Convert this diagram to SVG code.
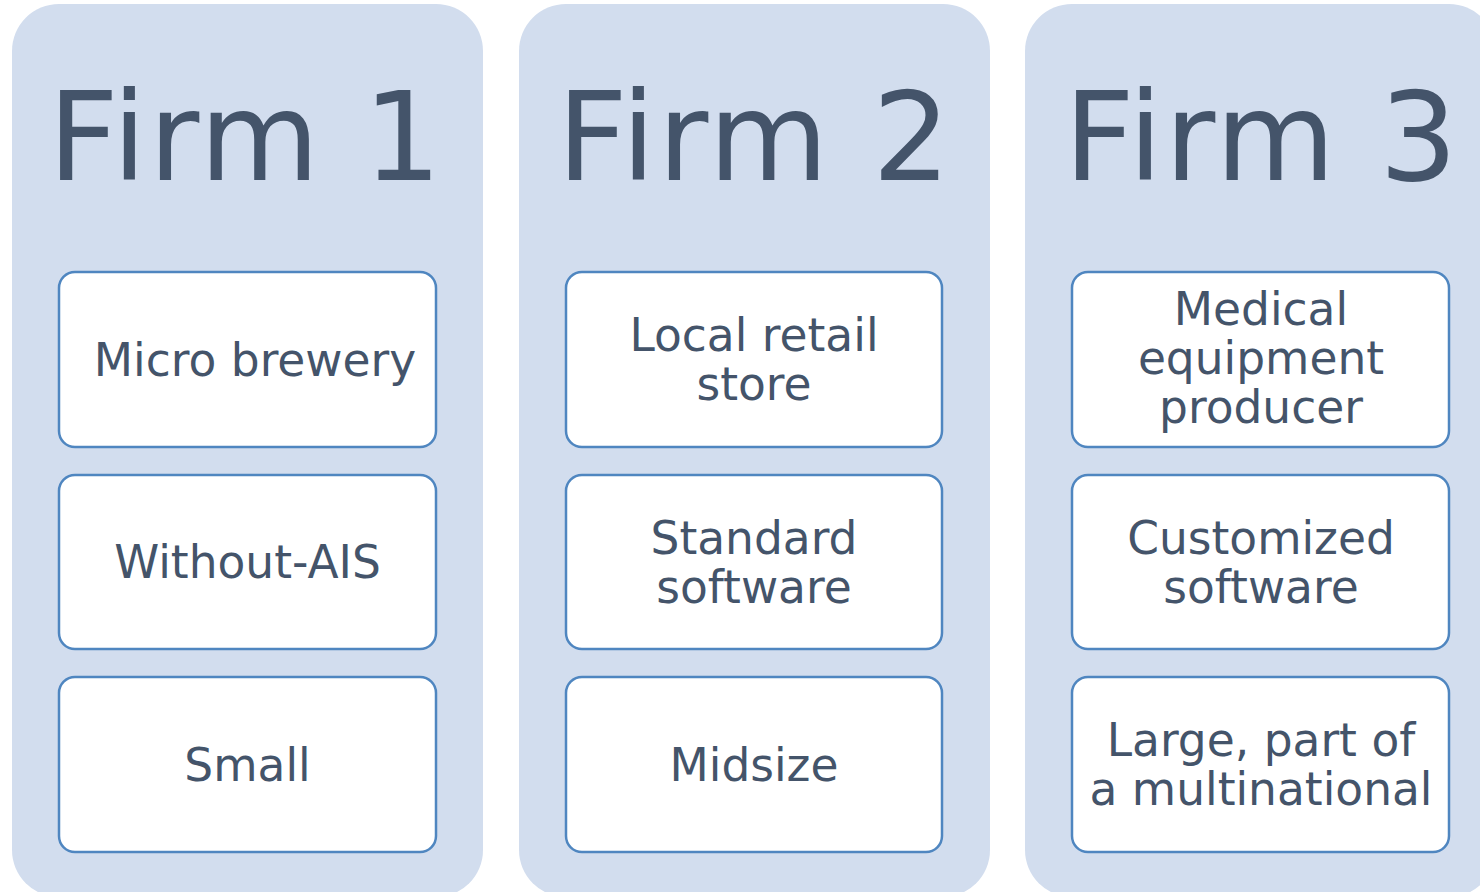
<svg xmlns="http://www.w3.org/2000/svg" width="1480" height="892" viewBox="0 0 1480 892">
<style>
.panel{fill:#D2DDEE}
.box{fill:#FFFFFF;stroke:#4F86C0;stroke-width:2.5}
.title{font-family:"DejaVu Sans",Verdana,sans-serif;font-size:123px;letter-spacing:2.4px;fill:#44546A;text-anchor:middle}
.lbl{font-family:"DejaVu Sans",Verdana,sans-serif;font-size:45.5px;fill:#44546A;text-anchor:middle}
</style>
<g id="firm1">
<rect class="panel" x="12" y="4" width="471" height="893" rx="47"/>
<text class="title" x="246" y="180">Firm 1</text>
</g>
<g id="firm2">
<rect class="panel" x="519" y="4" width="471" height="893" rx="47"/>
<text class="title" x="755" y="180">Firm 2</text>
</g>
<g id="firm3">
<rect class="panel" x="1025" y="4" width="471" height="893" rx="47"/>
<text class="title" x="1262" y="180">Firm 3</text>
</g>
<g id="f1-type"><rect class="box" x="59" y="272" width="377" height="175" rx="16"/><text class="lbl" x="255" y="376">Micro brewery</text></g>
<g id="f1-ais"><rect class="box" x="59" y="475" width="377" height="174" rx="16"/><text class="lbl" x="247.5" y="578">Without-AIS</text></g>
<g id="f1-size"><rect class="box" x="59" y="677" width="377" height="175" rx="16"/><text class="lbl" x="247.5" y="781">Small</text></g>
<g id="f2-type"><rect class="box" x="566" y="272" width="376" height="175" rx="16"/><text class="lbl" x="754" y="351">Local retail</text><text class="lbl" x="754" y="400">store</text></g>
<g id="f2-ais"><rect class="box" x="566" y="475" width="376" height="174" rx="16"/><text class="lbl" x="754" y="554">Standard</text><text class="lbl" x="754" y="603">software</text></g>
<g id="f2-size"><rect class="box" x="566" y="677" width="376" height="175" rx="16"/><text class="lbl" x="754" y="781">Midsize</text></g>
<g id="f3-type"><rect class="box" x="1072" y="272" width="377" height="175" rx="16"/><text class="lbl" x="1261" y="325">Medical</text><text class="lbl" x="1261" y="374">equipment</text><text class="lbl" x="1261" y="423">producer</text></g>
<g id="f3-ais"><rect class="box" x="1072" y="475" width="377" height="174" rx="16"/><text class="lbl" x="1261" y="554">Customized</text><text class="lbl" x="1261" y="603">software</text></g>
<g id="f3-size"><rect class="box" x="1072" y="677" width="377" height="175" rx="16"/><text class="lbl" x="1261" y="756">Large, part of</text><text class="lbl" x="1261" y="805">a multinational</text></g>
<g id="connectors"/>
</svg>
